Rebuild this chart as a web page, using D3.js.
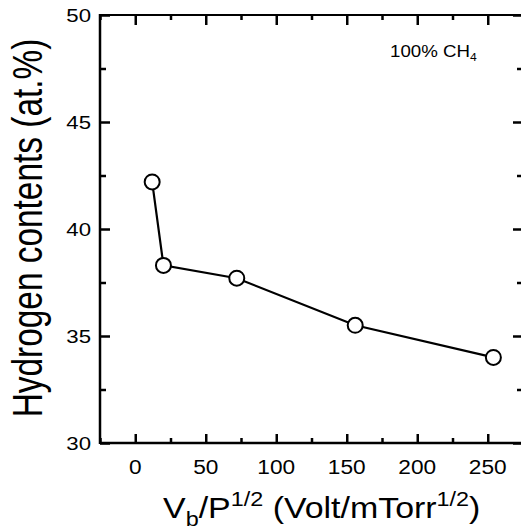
<!DOCTYPE html>
<html>
<head>
<meta charset="utf-8">
<script src="https://cdn.jsdelivr.net/npm/d3@7/dist/d3.min.js"></script>
<style>
html,body{margin:0;padding:0;background:#fff;overflow:hidden;}
svg{display:block;}
</style>
</head>
<body>
<div id="chart"></div>
<script>
// values
var xValues=[12,20,72,156,254];	// Vb/P^1/2
var yValues=[42.2,38.3,37.7,35.5,34.0];	// hydrogen at.%
var xTicks=[0,50,100,150,200,250];
var xMinor=[-25,25,75,125,175,225,275];
var yTicks=[30,35,40,45,50];
var yMinor=[32.5,37.5,42.5,47.5];

var W=521,H=532,
	L=100,R=523,T=15,B=443,
	font='Liberation Sans, Arial, Helvetica, sans-serif';

var svg=d3.select('#chart').append('svg')
	.attr('width',W).attr('height',H)
	.attr('font-family',font);

var xS=d3.scaleLinear().domain([-25,275]).range([L,R]);
var yS=d3.scaleLinear().domain([30,50]).range([B,T]);

// ticks via d3 axes, drawn inward
function inward(axis,len,vals){
	return axis.tickValues(vals).tickSize(-len).tickFormat('');
}
var axes=svg.append('g').attr('class','axes');
axes.append('g').attr('transform','translate(0,'+B+')').call(inward(d3.axisBottom(xS),9,xTicks));
axes.append('g').attr('transform','translate(0,'+B+')').call(inward(d3.axisBottom(xS),5,xMinor));
axes.append('g').attr('transform','translate(0,'+T+')').call(inward(d3.axisTop(xS),10,xTicks));
axes.append('g').attr('transform','translate(0,'+T+')').call(inward(d3.axisTop(xS),5,xMinor));
axes.append('g').attr('transform','translate('+L+',0)').call(inward(d3.axisLeft(yS),10,yTicks));
axes.append('g').attr('transform','translate('+L+',0)').call(inward(d3.axisLeft(yS),6,yMinor));
axes.append('g').attr('transform','translate('+R+',0)').call(inward(d3.axisRight(yS),10,yTicks));
axes.append('g').attr('transform','translate('+R+',0)').call(inward(d3.axisRight(yS),6,yMinor));
axes.selectAll('.domain').remove();
axes.selectAll('.tick line').attr('stroke','#000').attr('stroke-width',2.5);

// frame
var gFrame=svg.append('g');
function seg(g,x1,y1,x2,y2,w){
	g.append('line').attr('x1',x1).attr('y1',y1).attr('x2',x2).attr('y2',y2)
		.attr('stroke','#000').attr('stroke-width',w);
}
seg(gFrame,L,T-1,L,B+1,2.5);
seg(gFrame,L,B,R,B,2.5);
seg(gFrame,L,T,R,T,2);
seg(gFrame,R,T,R,B,2.5);

// stretched text helper (figure text is wider than normal)
function label(px,py,sx,size,anchor,str){
	return svg.append('g').attr('transform','translate('+px+','+py+') scale('+sx+',1)')
		.append('text').attr('font-size',size).attr('text-anchor',anchor).attr('fill','#000').text(str);
}

// tick labels
xTicks.forEach(function(t){ label(xS(t),474,1.08,21,'middle',t); });
yTicks.forEach(function(t){ label(91,yS(t)+6.5,1.2,18.5,'end',t); });

// line + markers
var path=d3.line().x(function(d,i){return xS(xValues[i]);}).y(function(d){return yS(d);});
svg.append('path').datum(yValues).attr('d',path)
	.attr('fill','none').attr('stroke','#000').attr('stroke-width',2.2);
svg.append('g').selectAll('circle').data(yValues).enter().append('circle')
	.attr('cx',function(d,i){return xS(xValues[i]);})
	.attr('cy',function(d){return yS(d);})
	.attr('r',7.5)
	.attr('fill','#fff').attr('stroke','#000').attr('stroke-width',2);

// annotation
var ann=label(390,57,1.1,17,'start','100% CH');
ann.append('tspan').attr('font-size',11).attr('dy',4).text('4');

// x title
var xt=label(163,518,1.17,29,'start','V');
xt.append('tspan').attr('font-size',20).attr('dy',8).text('b');
xt.append('tspan').attr('dy',-8).text('/P');
xt.append('tspan').attr('font-size',20).attr('dy',-12).text('1/2');
xt.append('tspan').attr('dy',12).text(' (Volt/mTorr');
xt.append('tspan').attr('font-size',20).attr('dy',-12).text('1/2');
xt.append('tspan').attr('dy',12).text(')');

// y title
svg.append('g').attr('transform','translate(42,228) scale(1.25,1) rotate(-90)')
	.append('text').attr('font-size',33.4).attr('text-anchor','middle').attr('fill','#000')
	.text('Hydrogen contents (at.%)');
</script>
</body>
</html>
